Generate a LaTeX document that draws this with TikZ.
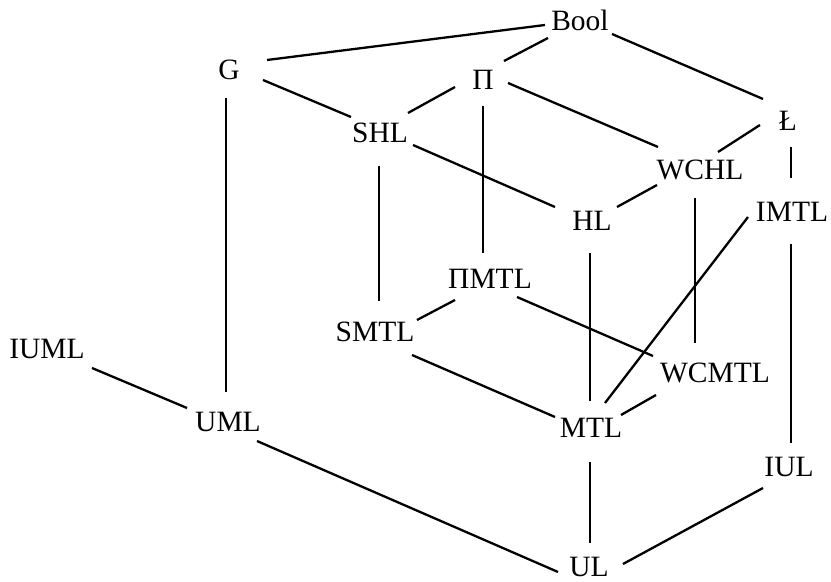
\documentclass[tikz,border=0pt]{standalone}
\usepackage{fontspec}
\setmainfont{Liberation Serif}
\begin{document}
\begin{tikzpicture}[x=0.5pt,y=-0.5pt,
  lbl/.style={inner sep=0pt,outer sep=0pt,font=\fontsize{14.75pt}{17pt}\selectfont},
  edge/.style={line width=1.15pt,black}]
\useasboundingbox (0,0) rectangle (831,582);
\node[lbl] (Bool)  at (580,20)  {Bool};
\node[lbl] (G)     at (229,70)  {G};
\node[lbl] (Pi)    at (483,80)  {Π};
\node[lbl] (SHL)   at (380,133) {SHL};
\node[lbl] (L)     at (788,121) {Ł};
\node[lbl] (WCHL)  at (700,170) {WCHL};
\node[lbl] (HL)    at (592,221) {HL};
\node[lbl] (IMTL)  at (792,212) {IMTL};
\node[lbl] (PMTL)  at (490,279) {ΠMTL};
\node[lbl] (SMTL)  at (375,332) {SMTL};
\node[lbl] (IUML)  at (47,349)  {IUML};
\node[lbl] (WCMTL) at (715,373) {WCMTL};
\node[lbl] (UML)   at (228,422) {UML};
\node[lbl] (MTL)   at (591,428) {MTL};
\node[lbl] (IUL)   at (789,467) {IUL};
\node[lbl] (UL)    at (589,567) {UL};
\begin{scope}[edge]
\draw ([shift={(-35,5)}]Bool.center) -- ([shift={(38,-10)}]G.center);
\draw ([shift={(-32,18)}]Bool.center) -- ([shift={(21,-19)}]Pi.center);
\draw ([shift={(32,14)}]Bool.center) -- ([shift={(-25,-22)}]L.center);
\draw ([shift={(34,10)}]G.center) -- ([shift={(-29,-16)}]SHL.center);
\draw ([shift={(-3,28)}]G.center) -- ([shift={(-2,-30)}]UML.center);
\draw ([shift={(-28,7)}]Pi.center) -- ([shift={(28,-20)}]SHL.center);
\draw ([shift={(25,3)}]Pi.center) -- ([shift={(-42,-23)}]WCHL.center);
\draw ([shift={(0,26)}]Pi.center) -- ([shift={(-7,-26)}]PMTL.center);
\draw ([shift={(33,12)}]SHL.center) -- ([shift={(-37,-14)}]HL.center);
\draw ([shift={(-1,33)}]SHL.center) -- ([shift={(4,-31)}]SMTL.center);
\draw ([shift={(-28,4)}]L.center) -- ([shift={(18,-18)}]WCHL.center);
\draw ([shift={(3,26)}]L.center) -- ([shift={(-1,-34)}]IMTL.center);
\draw ([shift={(-43,15)}]WCHL.center) -- ([shift={(25,-14)}]HL.center);
\draw ([shift={(-5,28)}]WCHL.center) -- ([shift={(-20,-30)}]WCMTL.center);
\draw ([shift={(-2,32)}]HL.center) -- ([shift={(-1,-27)}]MTL.center);
\draw ([shift={(-44,5)}]IMTL.center) -- ([shift={(14,-25)}]MTL.center);
\draw ([shift={(-1,32)}]IMTL.center) -- ([shift={(2,-24)}]IUL.center);
\draw ([shift={(-35,21)}]PMTL.center) -- ([shift={(42,-12)}]SMTL.center);
\draw ([shift={(27,18)}]PMTL.center) -- ([shift={(-62,-17)}]WCMTL.center);
\draw ([shift={(37,23)}]SMTL.center) -- ([shift={(-36,-11)}]MTL.center);
\draw ([shift={(-59,22)}]WCMTL.center) -- ([shift={(30,-13)}]MTL.center);
\draw ([shift={(45,19)}]IUML.center) -- ([shift={(-41,-14)}]UML.center);
\draw ([shift={(29,19)}]UML.center) -- ([shift={(-31,5)}]UL.center);
\draw ([shift={(-1,34)}]MTL.center) -- ([shift={(1,-24)}]UL.center);
\draw ([shift={(-26,21)}]IUL.center) -- ([shift={(34,-3)}]UL.center);
\end{scope}
\end{tikzpicture}
\end{document}
